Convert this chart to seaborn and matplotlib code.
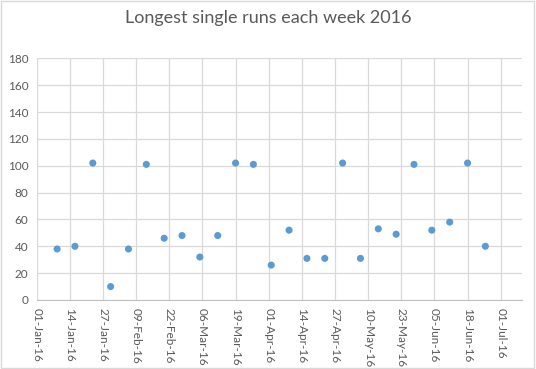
import pandas as pd
import numpy as np
import matplotlib
matplotlib.use("Agg")
import matplotlib.pyplot as plt
import matplotlib.dates as mdates
import seaborn as sns

# weekly longest runs (Saturdays, 2016)
weeks = pd.date_range("2016-01-09", "2016-06-25", freq="7D")
longest = [38, 40, 102, 10, 38, 101, 46, 48, 32, 48, 102, 101, 26,
           52, 31, 31, 102, 31, 53, 49, 101, 52, 58, 102, 40]
tick_dates = pd.date_range("2016-01-01", "2016-07-01", freq="13D")
y_ticks = list(range(0, 181, 20))

df = pd.DataFrame({"Week": weeks, "Longest": longest})

sns.set_style("white")
plt.rcParams["font.family"] = ["Lato", "DejaVu Sans"]

fig = plt.figure(figsize=(5.36, 3.69), dpi=100)
ax = fig.add_axes([0.0685, 0.187, 0.906, 0.655])

sns.scatterplot(data=df, x="Week", y="Longest", color="#5B9BD5",
                s=26, edgecolor="none", ax=ax, zorder=3)

ax.set_xlim(pd.Timestamp("2016-01-01"), pd.Timestamp("2016-07-09 12:00"))
ax.set_ylim(0, 180)
ax.set_xticks(tick_dates)
ax.xaxis.set_major_formatter(mdates.DateFormatter("%d-%b-%y"))
ax.set_yticks(y_ticks)
ax.grid(True, color="#D9D9D9", linewidth=0.9)
ax.set_axisbelow(True)
for side in ["top", "right", "left"]:
    ax.spines[side].set_visible(False)
ax.spines["bottom"].set_color("#BFBFBF")
ax.tick_params(axis="x", rotation=-90, labelsize=8.5, colors="#595959",
               length=4, color="#BFBFBF", pad=2)
ax.tick_params(axis="y", labelsize=8.5, colors="#595959", length=0, pad=6)
for lbl in ax.get_xticklabels():
    lbl.set_ha("center")
ax.set_xlabel("")
ax.set_ylabel("")

fig.text(0.5, 0.951, "Longest single runs each week 2016", ha="center",
         va="center", fontsize=13, color="#595959")

# chart area border
fig.patches.append(plt.Rectangle((0.002, 0.003), 0.995, 0.993, transform=fig.transFigure,
                                 fill=False, edgecolor="#D9D9D9", linewidth=1))

fig.savefig("out.png", dpi=100)
